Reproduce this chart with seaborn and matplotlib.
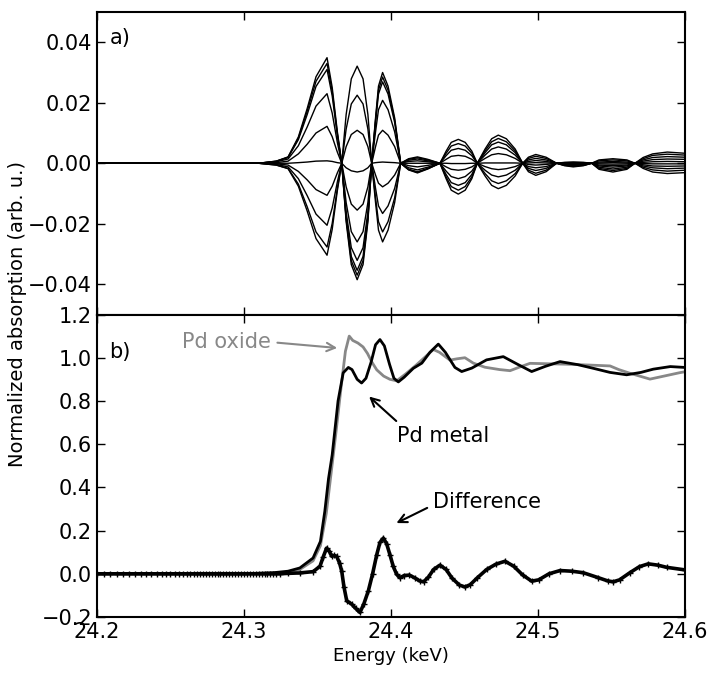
import numpy as np
import pandas as pd
import matplotlib
matplotlib.use("Agg")
import matplotlib.pyplot as plt
import seaborn as sns

# ---- a) difference spectra (values in units of 1e-3) ----
energy_top = [24.200, 24.310, 24.322, 24.330, 24.337, 24.343, 24.349, 24.3565, 24.360, 24.3635,
              24.3665, 24.3695, 24.373, 24.377, 24.381, 24.3843, 24.3869, 24.3895, 24.3915, 24.3943,
              24.398, 24.4025, 24.4066, 24.412, 24.418, 24.425, 24.4333, 24.4375, 24.441, 24.4458,
              24.4505, 24.455, 24.4587, 24.464, 24.4685, 24.473, 24.4785, 24.4845, 24.4896, 24.4935,
              24.4985, 24.5055, 24.5127, 24.518, 24.524, 24.531, 24.5365, 24.5415, 24.551, 24.5605,
              24.566, 24.5715, 24.578, 24.588, 24.600]

curve_1 = [0, 0, 0.7, 2.1, 8.7, 18.1, 28.6, 34.9, 25.1, 10.5, 0, -19.3, -33.5, -38.5, -33.5, -19.3, 0,
           15.0, 25.5, 30.0, 25.5, 15.0, 0, -2.2, -3.2, -1.9, 0, 4.0, 6.9, 7.9, 6.9, 4.0, 0,
           -4.2, -7.3, -8.4, -7.3, -4.2, 0, 2.0, 2.9, 2.0, 0, -0.8, -1.2, -0.8, 0, 1.1, 1.5, 1.1, 0,
           -1.7, -2.9, -3.4, -3.1]
curve_2 = [0, 0, 0.7, 2.0, 8.3, 17.2, 27.1, 33.0, 23.8, 9.9, 0, -18.5, -32.2, -37.0, -32.2, -18.5, 0,
           14.3, 24.2, 28.5, 24.2, 14.3, 0, -2.1, -3.0, -1.8, 0, 3.3, 5.7, 6.5, 5.7, 3.3, 0,
           -3.4, -5.8, -6.7, -5.8, -3.4, 0, 1.6, 2.3, 1.6, 0, -0.7, -1.0, -0.7, 0, 0.8, 1.1, 0.8, 0,
           -1.3, -2.2, -2.6, -2.3]
curve_3 = [0, 0, 0.6, 1.9, 7.8, 16.1, 25.4, 31.0, 22.3, 9.3, 0, -17.7, -30.8, -35.4, -30.8, -17.7, 0,
           13.5, 22.9, 26.9, 22.9, 13.5, 0, -2.0, -2.8, -1.7, 0, 2.5, 4.3, 4.9, 4.3, 2.5, 0,
           -2.3, -3.9, -4.5, -3.9, -2.3, 0, 1.1, 1.6, 1.1, 0, -0.6, -0.8, -0.6, 0, 0.4, 0.6, 0.4, 0,
           -0.9, -1.5, -1.8, -1.6]
curve_4 = [0, 0, 0.5, 1.4, 5.8, 12.0, 18.9, 23.0, 16.6, 6.9, 0, -16.1, -27.9, -32.1, -27.9, -16.1, 0,
           10.4, 17.7, 20.8, 17.7, 10.4, 0, -1.5, -2.2, -1.3, 0, 1.3, 2.3, 2.6, 2.3, 1.3, 0,
           -1.1, -1.8, -2.1, -1.8, -1.1, 0, 0.6, 0.9, 0.6, 0, -0.4, -0.6, -0.4, 0, 0.1, 0.2, 0.1, 0,
           -0.5, -0.9, -1.0, -0.9]
curve_5 = [0, 0, 0.2, 0.7, 3.1, 6.3, 10.0, 12.2, 8.8, 3.7, 0, -13.0, -22.6, -26.0, -22.6, -13.0, 0,
           5.5, 9.3, 10.9, 9.3, 5.5, 0, -0.8, -1.2, -0.7, 0, 0, -0.1, -0.1, -0.1, 0, 0,
           0.1, 0.1, 0.1, 0.1, 0.1, 0, 0.1, 0.2, 0.1, 0, -0.3, -0.4, -0.3, 0, -0.2, -0.3, -0.2, 0,
           -0.1, -0.2, -0.2, -0.2]
curve_6 = [0, 0, 0, 0, 0.2, 0.4, 0.7, 0.8, 0.6, 0.2, 0, -7.8, -13.5, -15.5, -13.5, -7.8, 0,
           0.2, 0.3, 0.4, 0.3, 0.2, 0, 0, 0, 0, 0, -1.2, -2.0, -2.3, -2.0, -1.2, 0,
           1.6, 2.8, 3.2, 2.8, 1.6, 0, -0.4, -0.6, -0.4, 0, -0.1, -0.2, -0.1, 0, -0.6, -0.8, -0.6, 0,
           0.3, 0.5, 0.6, 0.5]
curve_7 = [0, 0, -0.2, -0.6, -2.7, -5.5, -8.7, -10.6, -7.6, -3.2, 0, -1.5, -2.5, -2.9, -2.5, -1.5, 0,
           -3.9, -6.6, -7.8, -6.6, -3.9, 0, 0.6, 0.8, 0.5, 0, -2.6, -4.4, -5.1, -4.4, -2.6, 0,
           2.7, 4.7, 5.4, 4.7, 2.7, 0, -1.1, -1.5, -1.1, 0, 0, 0, 0, 0, -0.9, -1.3, -0.9, 0,
           0.7, 1.2, 1.4, 1.3]
curve_8 = [0, 0, -0.4, -1.2, -5.1, -10.7, -16.8, -20.5, -14.8, -6.2, 0, 5.5, 9.5, 10.9, 9.5, 5.5, 0,
           -8.3, -14.1, -16.6, -14.1, -8.3, 0, 1.0, 1.4, 0.8, 0, -3.7, -6.4, -7.3, -6.4, -3.7, 0,
           3.5, 6.1, 7.0, 6.1, 3.5, 0, -1.7, -2.4, -1.7, 0, 0.1, 0.1, 0.1, 0, -1.3, -1.9, -1.3, 0,
           1.1, 1.9, 2.2, 2.0]
curve_9 = [0, 0, -0.6, -1.7, -6.9, -14.4, -22.7, -27.7, -19.9, -8.3, 0, 11.3, 19.6, 22.5, 19.6, 11.3, 0,
           -11.4, -19.3, -22.7, -19.3, -11.4, 0, 1.3, 1.8, 1.1, 0, -4.5, -7.7, -8.9, -7.7, -4.5, 0,
           4.1, 7.1, 8.2, 7.1, 4.1, 0, -2.3, -3.3, -2.3, 0, 0.2, 0.3, 0.2, 0, -1.7, -2.4, -1.7, 0,
           1.5, 2.6, 3.0, 2.7]
curve_10 = [0, 0, -0.6, -1.8, -7.6, -15.8, -24.9, -30.4, -21.9, -9.1, 0, 16.1, 27.9, 32.1, 27.9, 16.1, 0,
            -13.0, -22.1, -26.0, -22.1, -13.0, 0, 1.5, 2.1, 1.3, 0, -5.1, -8.9, -10.2, -8.9, -5.1, 0,
            4.7, 8.1, 9.3, 8.1, 4.7, 0, -2.8, -4.0, -2.8, 0, 0.3, 0.4, 0.3, 0, -2.0, -2.9, -2.0, 0,
            1.9, 3.1, 3.7, 3.3]
top_curves = [curve_1, curve_2, curve_3, curve_4, curve_5,
              curve_6, curve_7, curve_8, curve_9, curve_10]

# ---- b) Pd metal, Pd oxide and their difference ----
energy_metal = [24.200, 24.300, 24.320, 24.330, 24.338, 24.347, 24.352, 24.355, 24.3575, 24.360,
                24.364, 24.3675, 24.371, 24.3735, 24.377, 24.380, 24.383, 24.3865, 24.3895, 24.3925,
                24.3955, 24.399, 24.402, 24.405, 24.409, 24.4152, 24.421, 24.4265, 24.4322, 24.437,
                24.4435, 24.4481, 24.455, 24.465, 24.4764, 24.486, 24.4957, 24.505, 24.515, 24.527,
                24.5376, 24.549, 24.5603, 24.570, 24.5784, 24.590, 24.600]
pd_metal = [0.0, 0.0, 0.005, 0.012, 0.027, 0.073, 0.15, 0.29, 0.44, 0.55,
            0.80, 0.93, 0.955, 0.945, 0.90, 0.883, 0.905, 0.98, 1.06, 1.084,
            1.055, 0.97, 0.905, 0.888, 0.91, 0.951, 0.975, 1.025, 1.063, 1.025,
            0.955, 0.936, 0.952, 0.99, 1.005, 0.97, 0.936, 0.96, 0.982, 0.968,
            0.951, 0.932, 0.921, 0.932, 0.947, 0.959, 0.955]

energy_oxide = [24.200, 24.300, 24.320, 24.330, 24.338, 24.347, 24.352, 24.356, 24.359, 24.3625,
                24.366, 24.369, 24.3716, 24.374, 24.3775, 24.381, 24.384, 24.387, 24.3903, 24.395,
                24.3993, 24.4039, 24.410, 24.417, 24.4235, 24.4288, 24.433, 24.4401, 24.445, 24.4503,
                24.456, 24.4639, 24.474, 24.481, 24.488, 24.4946, 24.5195, 24.535, 24.549, 24.555,
                24.5626, 24.5762, 24.5966, 24.600]
pd_oxide = [0.0, 0.0, 0.004, 0.008, 0.02, 0.06, 0.13, 0.28, 0.45, 0.65,
            0.86, 1.03, 1.10, 1.08, 1.068, 1.05, 1.02, 0.98, 0.944, 0.915,
            0.90, 0.893, 0.925, 0.965, 1.005, 1.038, 1.025, 0.989, 0.995, 1.0,
            0.975, 0.956, 0.945, 0.94, 0.958, 0.974, 0.97, 0.966, 0.962, 0.945,
            0.928, 0.901, 0.931, 0.935]

# pre-edge samples of the difference (flat at zero)
energy_diff_pre = [24.200, 24.2045, 24.209, 24.2135, 24.218, 24.222, 24.226, 24.230, 24.2335, 24.237,
                   24.2405, 24.244, 24.247, 24.250, 24.253, 24.256, 24.2585, 24.261, 24.2635, 24.266,
                   24.268, 24.270, 24.272, 24.274, 24.276, 24.278, 24.280, 24.282, 24.284, 24.286,
                   24.288, 24.290, 24.292, 24.294, 24.296, 24.298, 24.300, 24.302, 24.304, 24.306,
                   24.308, 24.310, 24.312, 24.314, 24.316, 24.318, 24.320, 24.322, 24.3245]
diff_pre = [0.0] * 49
energy_diff_post = [24.330, 24.338, 24.3471, 24.3517, 24.354, 24.3562, 24.358, 24.3597, 24.3615, 24.363,
                    24.365, 24.3665, 24.368, 24.3699, 24.3732, 24.376, 24.3789, 24.3815, 24.3846, 24.3875,
                    24.3903, 24.3925, 24.3948, 24.397, 24.3993, 24.4015, 24.4039, 24.4061, 24.409, 24.4125,
                    24.4165, 24.4195, 24.4222, 24.4255, 24.429, 24.4333, 24.4375, 24.4415, 24.4465, 24.4503,
                    24.454, 24.4585, 24.4651, 24.4715, 24.4776, 24.4835, 24.4895, 24.4957, 24.5005, 24.5075,
                    24.515, 24.523, 24.5308, 24.541, 24.5475, 24.5512, 24.5555, 24.5625, 24.569, 24.575,
                    24.5815, 24.5875, 24.600]
diff_post = [0.002, 0.004, 0.01, 0.035, 0.08, 0.119, 0.105, 0.081, 0.085, 0.081,
             0.05, 0.012, -0.06, -0.125, -0.14, -0.16, -0.179, -0.14, -0.079, 0.0,
             0.088, 0.145, 0.165, 0.14, 0.088, 0.035, -0.003, -0.018, -0.008, -0.006,
             -0.02, -0.033, -0.037, -0.015, 0.02, 0.04, 0.02, -0.02, -0.052, -0.061,
             -0.05, -0.02, 0.02, 0.045, 0.058, 0.035, -0.005, -0.034, -0.028, 0.0,
             0.015, 0.012, 0.005, -0.018, -0.033, -0.037, -0.028, 0.005, 0.033, 0.046,
             0.04, 0.03, 0.018]
energy_diff = energy_diff_pre + energy_diff_post
difference = diff_pre + diff_post

sns.set_style("ticks", {"axes.edgecolor": "black", "xtick.color": "black", "ytick.color": "black",
                        "text.color": "black", "axes.labelcolor": "black"})
plt.rcParams["font.family"] = ["DejaVu Sans"]

fig, (ax1, ax2) = plt.subplots(2, 1, figsize=(7.11, 6.82), dpi=100, sharex=True)
fig.subplots_adjust(left=0.1364, right=0.9634, top=0.9824, bottom=0.0953, hspace=0)

# top panel
top_df = pd.concat(
    [pd.DataFrame({"energy": energy_top, "signal": np.array(v) / 1000.0, "curve": i})
     for i, v in enumerate(top_curves)],
    ignore_index=True)
sns.lineplot(data=top_df, x="energy", y="signal", units="curve", estimator=None,
             color="black", lw=1, ax=ax1, legend=False)

# bottom panel
gray = "#888888"
sns.lineplot(x=energy_oxide, y=pd_oxide, color=gray, lw=2, ax=ax2)
sns.lineplot(x=energy_metal, y=pd_metal, color="black", lw=2, ax=ax2)
sns.lineplot(x=energy_diff, y=difference, color="black", lw=2.6, marker="+",
             markersize=5, markeredgewidth=1, markeredgecolor="black", ax=ax2)

for ax in (ax1, ax2):
    ax.set_xlim(24.2, 24.6)
    ax.set_xticks([24.2, 24.3, 24.4, 24.5, 24.6])
    ax.tick_params(direction="in", top=True, right=True, length=6, width=1, labelsize=15)
    for s in ax.spines.values():
        s.set_linewidth(1.5)
    ax.set_ylabel("")
    ax.set_xlabel("")

ax1.set_ylim(-0.05, 0.05)
ax1.set_yticks([-0.04, -0.02, 0.0, 0.02, 0.04])
ax1.tick_params(labelbottom=False)
ax2.set_ylim(-0.2, 1.2)
ax2.set_yticks([-0.2, 0.0, 0.2, 0.4, 0.6, 0.8, 1.0, 1.2])

ax2.set_xlabel("Energy (keV)", fontsize=13)
fig.text(0.025, 0.539, "Normalized absorption (arb. u.)", rotation=90,
         va="center", ha="center", fontsize=14)

ax1.text(24.2156, 0.0413, "a)", fontsize=15, ha="center", va="center")
ax2.text(24.2156, 1.026, "b)", fontsize=15, ha="center", va="center")

ax2.annotate("Pd oxide", xy=(24.3653, 1.044), xytext=(24.2884, 1.072), color=gray,
             fontsize=15, ha="center", va="center",
             arrowprops=dict(arrowstyle="->", color=gray, lw=1.5, relpos=(1.0, 0.5)))
ax2.annotate("Pd metal", xy=(24.3837, 0.829), xytext=(24.4357, 0.637),
             fontsize=15, ha="center", va="center",
             arrowprops=dict(arrowstyle="->", color="black", lw=1.5, relpos=(0.05, 1.0)))
ax2.annotate("Difference", xy=(24.402, 0.229), xytext=(24.4653, 0.332),
             fontsize=15, ha="center", va="center",
             arrowprops=dict(arrowstyle="->", color="black", lw=1.5, relpos=(0.0, 0.35)))

fig.savefig("out.png", dpi=100)
